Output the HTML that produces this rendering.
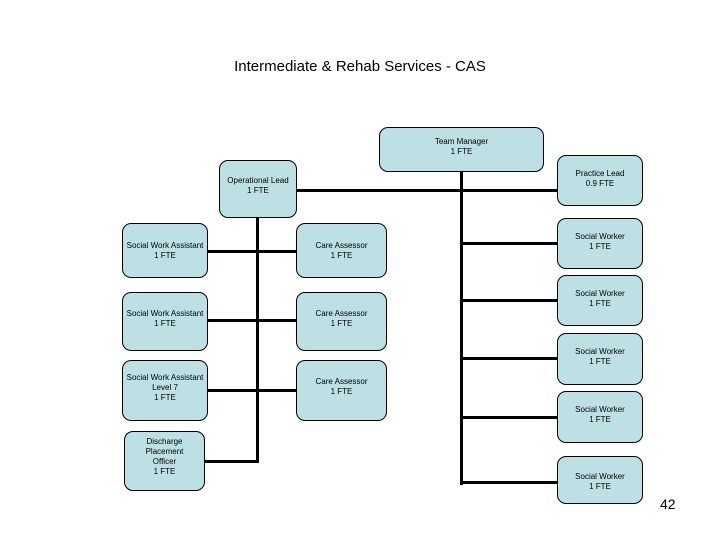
<!DOCTYPE html>
<html><head><style>
body{margin:0;width:720px;height:540px;background:#fff;position:relative;overflow:hidden;font-family:"Liberation Sans",sans-serif}
.b{position:absolute;background:#bde0e4;border:1px solid #000;border-radius:9px;box-sizing:border-box;display:flex;align-items:center;justify-content:center;text-align:center;font-size:8px;line-height:10px;color:#000}
.h{position:absolute;background:#000;height:3px}
.v{position:absolute;background:#000;width:3px}
</style></head><body>
<div style="position:absolute;left:0;width:720px;top:58px;text-align:center;font-size:15px">Intermediate &amp; Rehab Services - CAS</div>
<div style="position:absolute;left:660px;top:496px;font-size:14px">42</div>

<div class="v" style="left:460px;top:172px;height:313px"></div>
<div class="h" style="left:296px;top:189px;width:262px"></div>
<div class="h" style="left:460px;top:242px;width:98px"></div>
<div class="h" style="left:460px;top:299px;width:98px"></div>
<div class="h" style="left:460px;top:357px;width:98px"></div>
<div class="h" style="left:460px;top:416px;width:98px"></div>
<div class="h" style="left:460px;top:481px;width:98px"></div>

<div class="v" style="left:256px;top:218px;height:245px"></div>
<div class="h" style="left:207px;top:250px;width:90px"></div>
<div class="h" style="left:207px;top:319px;width:90px"></div>
<div class="h" style="left:207px;top:389px;width:90px"></div>
<div class="h" style="left:204px;top:460px;width:55px"></div>

<div class="b" style="left:379px;top:127px;width:165px;height:45px;padding-bottom:6px">Team Manager<br>1 FTE</div>
<div class="b" style="left:219px;top:160px;width:78px;height:58px;padding-bottom:6px">Operational Lead<br>1 FTE</div>
<div class="b" style="left:557px;top:155px;width:86px;height:51px;padding-bottom:4px">Practice Lead<br>0.9 FTE</div>
<div class="b" style="left:557px;top:218px;width:86px;height:51px;padding-bottom:4px">Social Worker<br>1 FTE</div>
<div class="b" style="left:557px;top:275px;width:86px;height:51px;padding-bottom:4px">Social Worker<br>1 FTE</div>
<div class="b" style="left:557px;top:333px;width:86px;height:52px;padding-bottom:4px">Social Worker<br>1 FTE</div>
<div class="b" style="left:557px;top:391px;width:86px;height:52px;padding-bottom:4px">Social Worker<br>1 FTE</div>
<div class="b" style="left:557px;top:456px;width:86px;height:48px;padding-top:4px">Social Worker<br>1 FTE</div>

<div class="b" style="left:122px;top:223px;width:86px;height:55px">Social Work Assistant<br>1 FTE</div>
<div class="b" style="left:296px;top:223px;width:91px;height:55px">Care Assessor<br>1 FTE</div>
<div class="b" style="left:122px;top:292px;width:86px;height:59px;padding-bottom:6px">Social Work Assistant<br>1 FTE</div>
<div class="b" style="left:296px;top:292px;width:91px;height:59px;padding-bottom:6px">Care Assessor<br>1 FTE</div>
<div class="b" style="left:122px;top:360px;width:86px;height:61px;padding-bottom:6px">Social Work Assistant<br>Level 7<br>1 FTE</div>
<div class="b" style="left:296px;top:360px;width:91px;height:61px;padding-bottom:8px">Care Assessor<br>1 FTE</div>
<div class="b" style="left:124px;top:431px;width:81px;height:60px;padding-bottom:8px">Discharge<br>Placement<br>Officer<br>1 FTE</div>
</body></html>
